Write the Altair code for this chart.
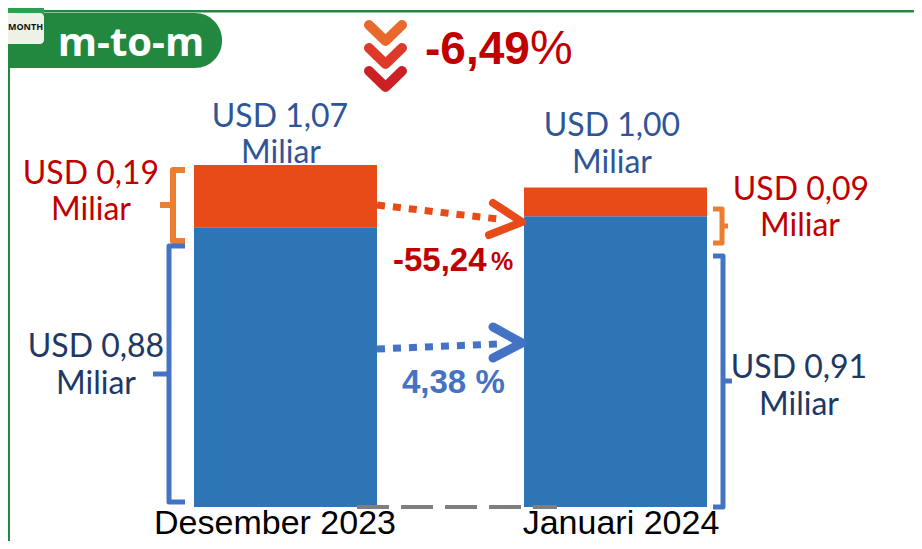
import altair as alt
import pandas as pd

# ---- data values ----
months = ["Desember 2023", "Januari 2024"]
series = ["Biru", "Oranye"]
blue_values = [0.875, 0.91]
orange_values = [0.195, 0.09]

total_labels = ["USD 1,07", "USD 1,00"]
orange_labels = ["USD 0,19", "USD 0,09"]
blue_labels = ["USD 0,88", "USD 0,91"]
unit_label = "Miliar"
tag_small = "MONTH"
tag_big = "m-to-m"
headline = "-6,49"
orange_change = "-55,24"
blue_change = "4,38 %"
percent = "%"

BLUE, ORANGE = "#2E75B6", "#E84A18"
NAVY, STEEL, RED = "#203864", "#2F5597", "#C00000"
ACCENT, BRACE_O = "#4472C4", "#ED7D31"
GREEN = "#22883F"
SANS, CAL = "Liberation Sans", "Lato"

rows = []
for i, m in enumerate(months):
    rows.append({"month": m, "series": series[0], "idx": 0, "value": blue_values[i]})
    rows.append({"month": m, "series": series[1], "idx": 1, "value": orange_values[i]})
df = pd.DataFrame(rows)

W, H = 906, 499
one = alt.Data(values=[{"a": 1}])


def text(s, x, y, size, color, font=CAL, bold=False, align="center"):
    return alt.Chart(one).mark_text(
        font=font, fontSize=size, color=color, align=align, baseline="middle",
        fontWeight="bold" if bold else "normal",
    ).encode(x=alt.value(x - 8), y=alt.value(y - 8), text=alt.value(s))


def poly(points, color, width, dash=None, cap="round"):
    # decoration drawn as a custom symbol: a symbol of size 4 has a 1:1 path unit
    d = "M" + "L".join(f"{x - 8} {y - 8}" for x, y in points)
    kw = {"strokeDash": dash} if dash else {}
    return alt.Chart(one).mark_point(
        shape=d, size=4, filled=False, stroke=color, strokeWidth=width, opacity=1,
        strokeCap=cap, strokeJoin="round", **kw,
    ).encode(x=alt.value(0), y=alt.value(0))


def box(x1, x2, y1, y2, color, **kw):
    return alt.Chart(one).mark_rect(color=color, **kw).encode(
        x=alt.value(x1 - 8), x2=alt.value(x2 - 8), y=alt.value(y1 - 8), y2=alt.value(y2 - 8))


bars = alt.Chart(alt.Data(values=df.to_dict("records"))).mark_bar().encode(
    x=alt.X("month:N", axis=None, sort=months,
            scale=alt.Scale(domain=months, range=[186, 699], paddingInner=0.4455, paddingOuter=0)),
    y=alt.Y("value:Q", axis=None, stack="zero", scale=alt.Scale(domain=[0, 1.5613], nice=False, zero=True)),
    color=alt.Color("series:N", legend=None,
                    scale=alt.Scale(domain=series, range=[BLUE, ORANGE])),
    order=alt.Order("idx:Q"),
)

layers = [
    bars,
    # frame and tag
    box(8, 914, 10, 12.5, GREEN),
    box(8, 10, 60, 549, GREEN),
    box(8, 222, 13, 68, GREEN, cornerRadiusTopRight=27, cornerRadiusBottomRight=27),
    box(8, 44, 0, 20, "#2AA052", cornerRadiusBottomRight=4),
    box(8, 44, 13, 44, "#EEF2E6", cornerRadiusBottomRight=4, cornerRadiusTopRight=4),
    text(tag_small, 25.5, 27, 9, "#111111", font="Open Sans", bold=True),
    text(tag_big, 131, 44, 40, "#FFFFFF", font="Open Sans", bold=True),
    # chevrons and headline
    poly([(369, 25), (385.5, 41), (402, 25)], "#E9692C", 10),
    poly([(369, 48), (385.5, 64), (402, 48)], "#DE3A2A", 10),
    poly([(369, 71), (385.5, 87), (402, 71)], "#CC2027", 10),
    text(headline, 425, 50, 46, RED, font=SANS, bold=True, align="left"),
    text(percent, 530, 50, 48, RED, font=SANS, align="left"),
    # arrows
    poly([(377, 205), (498, 219)], ORANGE, 7, dash=[8, 8], cap="butt"),
    poly([(493, 203), (522, 222), (489, 235)], ORANGE, 8),
    poly([(377, 349), (498, 344)], ACCENT, 7, dash=[8, 8], cap="butt"),
    poly([(493, 327), (522, 343), (493, 358)], ACCENT, 9),
    text(orange_change, 393, 261, 33, RED, font=SANS, bold=True, align="left"),
    text(percent, 491, 262, 25, RED, font=SANS, bold=True, align="left"),
    text(blue_change, 402, 383, 33, ACCENT, font=SANS, bold=True, align="left"),
    # braces
    poly([(185, 170), (173, 170), (173, 241), (185, 241)], BRACE_O, 6, cap="butt"),
    poly([(160, 205), (173, 205)], BRACE_O, 6, cap="butt"),
    poly([(185, 246), (169, 246), (169, 502), (185, 502)], ACCENT, 5, cap="butt"),
    poly([(153, 374), (169, 374)], ACCENT, 5, cap="butt"),
    poly([(713, 209), (722, 209), (722, 243), (713, 243)], BRACE_O, 5, cap="butt"),
    poly([(722, 226), (728, 226)], BRACE_O, 5, cap="butt"),
    poly([(713, 256), (723, 256), (723, 507), (713, 507)], ACCENT, 5, cap="butt"),
    poly([(723, 381), (732, 381)], ACCENT, 5, cap="butt"),
    # baseline dashes
    poly([(357, 507), (557, 507)], "#7F7F7F", 4, dash=[32, 12], cap="butt"),
    # value labels
    text(total_labels[0], 280, 117, 32, STEEL),
    text(unit_label, 281, 153, 32, STEEL),
    text(total_labels[1], 612, 126, 32, STEEL),
    text(unit_label, 612, 163, 32, STEEL),
    text(orange_labels[0], 91, 174, 32, RED),
    text(unit_label, 91, 210, 32, RED),
    text(orange_labels[1], 801, 190, 32, RED),
    text(unit_label, 800, 226, 32, RED),
    text(blue_labels[0], 96, 347, 32, NAVY),
    text(unit_label, 96, 384, 32, NAVY),
    text(blue_labels[1], 799, 368, 32, NAVY),
    text(unit_label, 799, 405, 32, NAVY),
    # category labels
    text(months[0], 275, 524, 34, "#000000", font=SANS),
    text(months[1], 621, 524, 34, "#000000", font=SANS),
]

chart = alt.layer(*layers).properties(
    width=W, height=H,
    padding={"left": 0, "top": 0, "right": 0, "bottom": 34},
    autosize=alt.AutoSizeParams(type="none"),
    background="#FFFFFF",
).configure_view(stroke=None)

chart.save("out.html", embed_options={"renderer": "svg", "actions": False})
